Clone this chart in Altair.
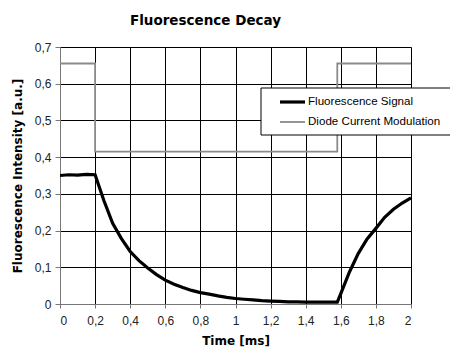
import altair as alt
import pandas as pd

# Fluorescence signal
fl_time = [0.0, 0.05, 0.1, 0.15, 0.2, 0.25, 0.3, 0.35, 0.4, 0.45, 0.5, 0.55, 0.6, 0.65,
           0.7, 0.75, 0.8, 0.85, 0.9, 0.95, 1.0, 1.05, 1.1, 1.15, 1.2, 1.25, 1.3, 1.35,
           1.4, 1.45, 1.5, 1.55, 1.58, 1.6, 1.65, 1.7, 1.75, 1.8, 1.85, 1.9, 1.95, 2.0]
fl_value = [0.350, 0.352, 0.351, 0.353, 0.352, 0.282, 0.220, 0.178, 0.143, 0.118, 0.098,
            0.080, 0.065, 0.054, 0.045, 0.037, 0.031, 0.027, 0.022, 0.018, 0.015, 0.013,
            0.011, 0.009, 0.008, 0.007, 0.006, 0.006, 0.005, 0.005, 0.005, 0.005, 0.005,
            0.028, 0.088, 0.138, 0.177, 0.206, 0.236, 0.258, 0.275, 0.289]

# Diode current modulation (step signal)
dc_time = [0.0, 0.2, 0.2, 1.58, 1.58, 2.0]
dc_value = [0.655, 0.655, 0.415, 0.415, 0.655, 0.655]

series_names = ["Fluorescence Signal", "Diode Current Modulation"]
series_colors = ["#000000", "#8a8a8a"]

x_ticks = [0, 0.2, 0.4, 0.6, 0.8, 1.0, 1.2, 1.4, 1.6, 1.8, 2.0]
y_ticks = [0, 0.1, 0.2, 0.3, 0.4, 0.5, 0.6, 0.7]

rows = []
for i, (t, v) in enumerate(zip(fl_time, fl_value)):
    rows.append({"time": t, "value": v, "series": series_names[0], "order": i})
for i, (t, v) in enumerate(zip(dc_time, dc_value)):
    rows.append({"time": t, "value": v, "series": series_names[1], "order": i})
df = pd.DataFrame(rows)

label_expr = "replace(format(datum.value, '~g'), '.', ',')"

x = alt.X("time:Q", scale=alt.Scale(domain=[0, 2], nice=False),
          axis=alt.Axis(values=x_ticks, labelExpr=label_expr, title="Time [ms]",
                        titlePadding=9, labelPadding=7, tickSize=4))
y = alt.Y("value:Q", scale=alt.Scale(domain=[0, 0.7], nice=False),
          axis=alt.Axis(values=y_ticks, labelExpr=label_expr,
                        title="Fluorescence Intensity [a.u.]", titlePadding=10,
                        labelPadding=4, tickSize=5))

lines = alt.Chart(df).mark_line(interpolate="linear").encode(
    x=x, y=y,
    color=alt.Color("series:N", scale=alt.Scale(domain=series_names, range=series_colors),
                    legend=alt.Legend(orient="none", legendX=218, legendY=40.5, title=None,
                                      symbolType="stroke", symbolSize=625,
                                      symbolStrokeWidth=2.5, labelFontSize=11.6,
                                      labelFont="Liberation Sans",
                                      labelColor="#000", labelOffset=1, rowPadding=-2.3,
                                      padding=0)),
    strokeWidth=alt.StrokeWidth("series:N", scale=alt.Scale(domain=series_names, range=[3.2, 1.8]),
                                legend=None),
    order="order:Q",
)

box = alt.Chart(pd.DataFrame({"a": [0]})).mark_rect(fill="white", stroke="black",
                                                    strokeWidth=1).encode(
    x=alt.value(201), x2=alt.value(400), y=alt.value(41), y2=alt.value(88)
)

chart = alt.layer(lines, box).properties(
    width=351, height=257,
    title=alt.TitleParams("Fluorescence Decay", fontSize=13.5, fontWeight="bold",
                          font="DejaVu Sans", anchor="middle", dx=-30, offset=14,
                          color="#000"),
    autosize=alt.AutoSizeParams(type="none"),
    padding={"left": 52, "top": 39, "right": 39, "bottom": 44},
).configure(font="Liberation Sans").configure_axis(
    gridColor="#000", gridOpacity=1, gridWidth=1,
    domainColor="#777", tickColor="#777",
    labelColor="#222", labelFontSize=12, labelFont="Liberation Sans",
    titleFontSize=12, titleFontWeight="bold", titleColor="#000", titleFont="DejaVu Sans",
).configure_view(stroke=None)

chart.save("out.html", embed_options={"renderer": "svg", "actions": False})
